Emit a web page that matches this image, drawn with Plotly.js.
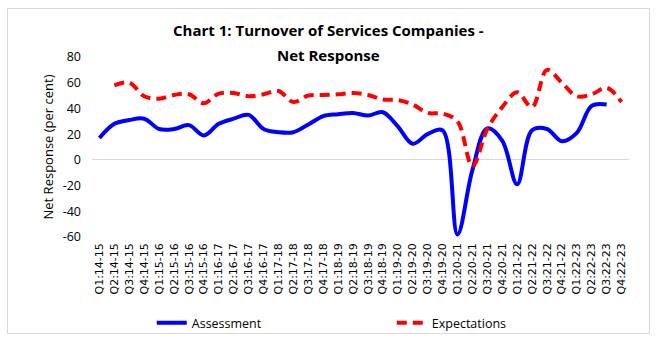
<!DOCTYPE html>
<html>
<head>
<meta charset="utf-8">
<script src="https://cdn.plot.ly/plotly-3.0.1.min.js"></script>
<style>
  html, body { margin: 0; padding: 0; background: #fff; }
  #wrap { position: relative; width: 657px; height: 341px; }
  #chart { width: 657px; height: 341px; }
  #frame { position: absolute; left: 7px; top: 8px; width: 643px; height: 326px;
           border: 1px solid #d9d9d9; box-sizing: border-box; pointer-events: none; }
</style>
</head>
<body>
<div id="wrap">
  <div id="chart"></div>
  <div id="frame"></div>
</div>
<script>
const quarters = [
  "Q1:14-15","Q2:14-15","Q3:14-15","Q4:14-15",
  "Q1:15-16","Q2:15-16","Q3:15-16","Q4:15-16",
  "Q1:16-17","Q2:16-17","Q3:16-17","Q4:16-17",
  "Q1:17-18","Q2:17-18","Q3:17-18","Q4:17-18",
  "Q1:18-19","Q2:18-19","Q3:18-19","Q4:18-19",
  "Q1:19-20","Q2:19-20","Q3:19-20","Q4:19-20",
  "Q1:20-21","Q2:20-21","Q3:20-21","Q4:20-21",
  "Q1:21-22","Q2:21-22","Q3:21-22","Q4:21-22",
  "Q1:22-23","Q2:22-23","Q3:22-23","Q4:22-23"
];
const assessment = [
  17, 28, 31, 32,
  24, 24, 27, 19,
  28, 32, 35, 24,
  21.5, 21.5, 27.5, 34,
  35.5, 36.5, 34.5, 37,
  26, 12.5, 20, 23,
  -58, -8, 24.5, 15,
  -19, 23, 24, 14.5,
  21, 42, 43, null
];
const expectations = [
  null, 58, 60, 49.5,
  47.5, 50.5, 51, 44,
  51.5, 52, 49.5, 51,
  53.5, 45, 50, 50.5,
  51, 52, 50.5, 47,
  46.5, 43, 36.5, 36,
  30, -5, 24, 41,
  52.5, 41, 70, 60,
  49.5, 51, 56, 45
];
const yTicks = [-60, -40, -20, 0, 20, 40, 60, 80];
const titleLines = ["Chart 1: Turnover of Services Companies -", "Net Response"];

const font = "Open Sans, Lato, Liberation Sans, sans-serif";

const traces = [
  {
    x: quarters, y: assessment, name: "Assessment", type: "scatter", mode: "lines",
    line: { color: "#0000ff", width: 4, shape: "spline", smoothing: 1 },
    connectgaps: false
  },
  {
    x: quarters, y: expectations, name: "Expectations", type: "scatter", mode: "lines",
    line: { color: "#ff0000", width: 4, dash: "10px,6px", shape: "spline", smoothing: 1 },
    connectgaps: false
  }
];

const layout = {
  width: 657, height: 341,
  margin: { l: 92, r: 28, t: 57, b: 104 },
  paper_bgcolor: "#ffffff", plot_bgcolor: "#ffffff",
  showlegend: true,
  annotations: [
    { text: "<b>" + titleLines[0] + "</b>", xref: "paper", yref: "paper",
      x: 0.44, y: (237 - 30) / 180, xanchor: "center", yanchor: "middle", showarrow: false,
      font: { family: font, size: 15, color: "#000" } },
    { text: "<b>" + titleLines[1] + "</b>", xref: "paper", yref: "paper",
      x: 0.44, y: (237 - 55) / 180, xanchor: "center", yanchor: "middle", showarrow: false,
      font: { family: font, size: 15, color: "#000" } }
  ],
  xaxis: {
    type: "category",
    range: [-0.5, 35.5],
    tickangle: -90,
    tickfont: { family: "DejaVu Sans, Verdana, sans-serif", size: 11, color: "#000" },
    ticklabelstandoff: 3,
    showgrid: false, showline: false, zeroline: false, ticks: "",
    automargin: false
  },
  yaxis: {
    range: [-60, 80],
    tickvals: yTicks,
    ticktext: yTicks.map(String),
    tickfont: { family: font, size: 12.5, color: "#000" },
    ticklabelstandoff: 10,
    showgrid: false, showline: false, ticks: "",
    zeroline: true, zerolinecolor: "#d9d9d9", zerolinewidth: 1,
    title: { text: "Net Response (per cent)", font: { family: font, size: 13, color: "#000" }, standoff: 6 },
    automargin: false
  },
  legend: {
    orientation: "h",
    xref: "container", yref: "container",
    x: 0.231, xanchor: "left",
    y: 1 - 323 / 341, yanchor: "middle",
    font: { family: font, size: 12.5, color: "#000" },
    entrywidth: 195, entrywidthmode: "pixels",
    bgcolor: "rgba(0,0,0,0)"
  }
};

Plotly.newPlot("chart", traces, layout, { displayModeBar: false, staticPlot: true });
</script>
</body>
</html>
